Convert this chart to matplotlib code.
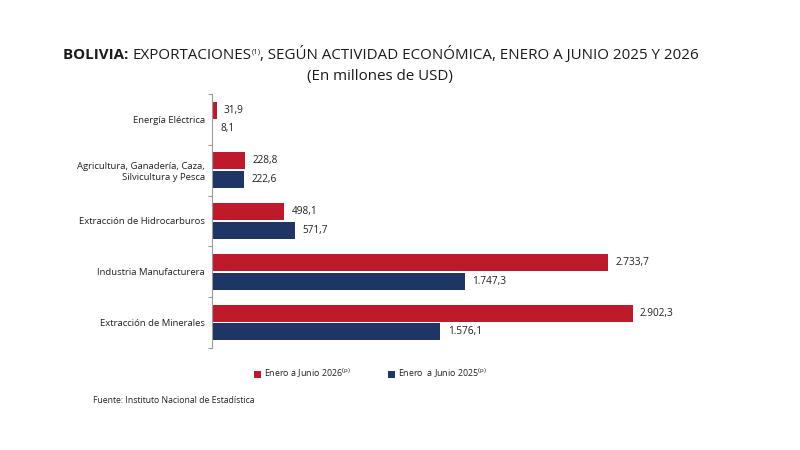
import matplotlib
matplotlib.use("Agg")
import matplotlib.pyplot as plt
import numpy as np

# datos (millones de USD)
categorias = ["Extracción de Minerales", "Industria Manufacturera",
              "Extracción de Hidrocarburos",
              "Agricultura, Ganadería, Caza,\nSilvicultura y Pesca",
              "Energía Eléctrica"]
valores_2026 = [2902.3, 2733.7, 498.1, 228.8, 31.9]
valores_2025 = [1576.1, 1747.3, 571.7, 222.6, 8.1]

rojo = "#BE1A2C"
azul = "#1F3566"
txt = "#231F20"

plt.rcParams["font.family"] = ["Open Sans", "DejaVu Sans"]
plt.rcParams["mathtext.fontset"] = "custom"
plt.rcParams["mathtext.rm"] = "Open Sans"


def fmt(v):
    s = "{:,.1f}".format(v)
    return s.replace(",", "X").replace(".", ",").replace("X", ".")


fig = plt.figure(figsize=(8, 4.5), dpi=100)
ax = fig.add_axes([0.265, 0.227, 0.616, 0.564])

y = np.arange(len(categorias))
off = 0.185
h = 0.335
ax.barh(y + off, valores_2026, height=h, color=rojo, label=r"Enero a Junio 2026$^{\mathrm{(p)}}$")
ax.barh(y - off, valores_2025, height=h, color=azul, label=r"Enero  a Junio 2025$^{\mathrm{(p)}}$")

for yi, v in zip(y, valores_2026):
    ax.text(v + 50, yi + off, fmt(v), va="center", ha="left", fontsize=7.2, color=txt)
for yi, v in zip(y, valores_2025):
    ax.text(v + 50, yi - off, fmt(v), va="center", ha="left", fontsize=7.2, color=txt)

ax.set_xlim(0, 3400)
ax.set_ylim(-0.5, 4.5)
ax.set_yticks(y)
ax.set_yticklabels(categorias, fontsize=6.8, color=txt, linespacing=1.3)
ax.set_yticks(np.arange(-0.5, 5.0, 1.0), minor=True)
ax.tick_params(axis="y", which="major", length=0, pad=5)
ax.tick_params(axis="y", which="minor", length=3, color="#9a9a9a", width=0.8)
ax.set_xticks([])
for s in ["top", "right", "bottom"]:
    ax.spines[s].set_visible(False)
ax.spines["left"].set_color("#9a9a9a")
ax.spines["left"].set_linewidth(0.8)

# leyenda
ax.legend(loc="upper left", bbox_to_anchor=(0.07, -0.045), ncol=2, frameon=False,
          fontsize=6.4, handlelength=0.7, handleheight=0.7, handletextpad=0.4,
          columnspacing=4.2, labelcolor=txt)

# titulo en partes
fig.canvas.draw()
r = fig.canvas.get_renderer()
piezas = [("BOLIVIA: ", dict(fontweight="bold", fontsize=10.9), 0),
          ("EXPORTACIONES", dict(fontsize=10.9), 0),
          ("(1)", dict(fontsize=5.5), 0.012),
          (", SEGÚN ACTIVIDAD ECONÓMICA, ENERO A JUNIO 2025 Y 2026", dict(fontsize=10.9), 0)]
x0 = 63 / 800
ty = 1 - 59 / 450
for t, props, dy in piezas:
    tt = fig.text(x0, ty + dy, t, color="#1a1a1a", va="baseline", ha="left", **props)
    bb = tt.get_window_extent(r)
    x0 += bb.width / 800
fig.text(380 / 800, 1 - 80 / 450, "(En millones de USD)", ha="center", va="baseline",
         fontsize=10.9, color="#1a1a1a")

fig.text(93 / 800, 1 - 403 / 450, "Fuente: Instituto Nacional de Estadística",
         fontsize=6.2, color=txt)

fig.savefig("out.png", dpi=100)
